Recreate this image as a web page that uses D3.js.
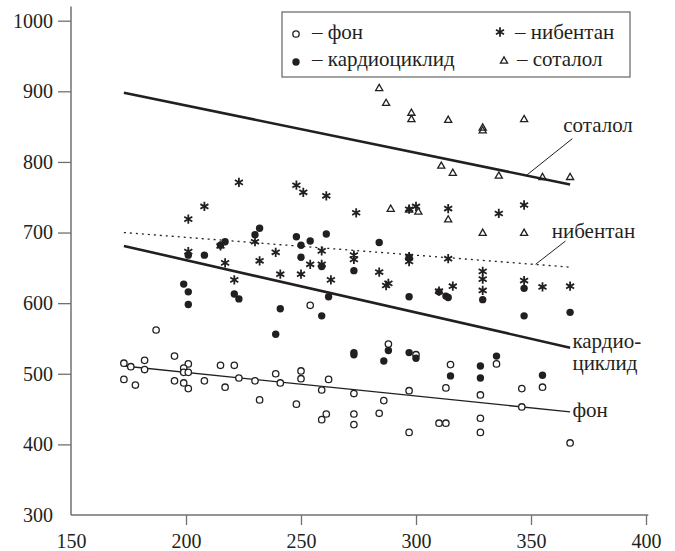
<!DOCTYPE html>
<html>
<head>
<meta charset="utf-8">
<script src="https://cdn.jsdelivr.net/npm/d3@7"></script>
<style>
body { margin: 0; background: #fff; }
#chart text { font-family: "Liberation Serif", "Times New Roman", serif !important; }
</style>
</head>
<body>
<svg id="chart" width="675" height="551"></svg>
<script>
// values: [x, y]
var fon = [[173,515],[173,492],[176,510],[178,484],[182,519],[182,506],[187,562],
  [195,525],[201,514],[199,508],[199,502],[201,502],[195,490],[199,487],[201,479],[208,490],
  [215,512],[221,512],[217,481],[223,494],[230,490],[232,463],[239,500],[241,487],[250,504],
  [250,493],[248,457],[262,492],[259,477],[261,443],[259,435],[273,472],[273,443],[273,428],
  [288,542],[286,462],[284,444],[297,476],[297,417],[300,527],[254,597],[315,513],[313,480],
  [310,430],[313,430],[328,470],[335,514],[328,437],[328,417],[346,479],[346,453],[355,481],[367,402]]

var kardio = [[201,668],[208,668],[215,682],[217,687],[232,706],[230,697],[248,694],[250,682],
  [254,688],[261,698],[250,665],[259,652],[284,686],[273,646],[297,665],[199,627],[201,616],
  [201,598],[221,613],[223,606],[262,609],[241,592],[259,582],[297,609],[239,556],[273,530],
  [273,527],[288,533],[286,518],[297,530],[300,522],[328,511],[315,497],[328,494],[335,525],
  [355,498],[310,616],[313,610],[314,608],[329,605],[347,621],[347,582],[367,587]]

var nibentan = [[201,719],[208,737],[223,771],[248,767],[251,757],[261,752],[274,728],[201,673],
  [215,681],[230,687],[217,657],[232,660],[239,672],[259,674],[221,633],[254,655],[259,655],
  [241,641],[250,641],[263,633],[273,668],[273,662],[284,644],[287,625],[288,628],[297,659],
  [297,666],[300,737],[297,733],[314,734],[336,727],[347,739],[314,663],[316,624],[329,645],
  [329,634],[329,618],[347,632],[355,623],[367,624],[310,617]]

var sotalol = [[284,904],[287,883],[298,869],[298,860],[314,859],[329,848],[329,844],[347,860],
  [311,794],[316,784],[336,780],[355,778],[367,778],[289,733],[297,732],[301,729],[314,718],
  [329,699],[347,699]]

// trend lines (start, end)
var fonLine = [[173,511],[367,446]]
var kardioLine = [[173,681],[367,537]]
var nibLine = [[173,700],[367,651]]
var sotLine = [[173,898],[367,768]]

var xTicks = [150,200,250,300,350,400]
var yTicks = [300,400,500,600,700,800,900,1000]

var svg = d3.select("#chart")
var ink = "#231f20"
var axisColor = "#707070"

var x = d3.scaleLinear().domain([150, 400]).range([71, 646])
var y = d3.scaleLinear().domain([300, 1000]).range([515, 20.7])

// axes
var gx = svg.append("g")
  .attr("transform", `translate(0,${y(300)})`)
  .call(d3.axisBottom(x).tickValues(xTicks).tickSize(10).tickSizeOuter(0).tickFormat(d3.format("d")))
  .attr("font-family", null).attr("font-size", 20)
gx.select(".domain").remove()
gx.selectAll(".tick line").attr("stroke", axisColor).attr("stroke-width", 1.3)
  .filter(d => d === 150).remove()
gx.selectAll(".tick text").attr("y", 33).attr("dy", 0).attr("fill", ink)

var gy = svg.append("g")
  .attr("transform", `translate(${x(150)},0)`)
  .call(d3.axisLeft(y).tickValues(yTicks).tickSize(13).tickPadding(5).tickSizeOuter(0).tickFormat(d3.format("d")))
  .attr("font-family", null).attr("font-size", 20)
gy.select(".domain").remove()
gy.selectAll(".tick line").attr("stroke", axisColor).attr("stroke-width", 1.3)
  .filter(d => d === 300).remove()
gy.selectAll(".tick text").attr("fill", ink)

svg.append("line")
  .attr("x1", x(150)).attr("x2", x(150))
  .attr("y1", y(1020)).attr("y2", y(300))
  .attr("stroke", axisColor).attr("stroke-width", 1.5)
svg.append("line")
  .attr("x1", x(150)).attr("x2", x(401))
  .attr("y1", y(300)).attr("y2", y(300))
  .attr("stroke", axisColor).attr("stroke-width", 1.5)

// trend lines
var line = d3.line().x(d => x(d[0])).y(d => y(d[1]))
function trend(data, width, dash) {
  svg.append("path").datum(data)
    .attr("d", line)
    .attr("fill", "none")
    .attr("stroke", ink)
    .attr("stroke-width", width)
    .attr("stroke-dasharray", dash)
}
trend(sotLine, 2.6, null)
trend(kardioLine, 2.6, null)
trend(nibLine, 1.3, "2,4")
trend(fonLine, 1.3, null)

// leader lines
var leaders = [[[348,781],[368,833]], [[352,655],[365,688]]]
leaders.forEach(function(l) {
  svg.append("path").datum(l).attr("d", line)
    .attr("stroke", ink).attr("stroke-width", 1).attr("fill", "none")
})

// markers
svg.append("g").selectAll("circle").data(fon).join("circle")
  .attr("cx", d => x(d[0])).attr("cy", d => y(d[1])).attr("r", 3.2)
  .attr("fill", "#fff").attr("stroke", ink).attr("stroke-width", 1.3)

svg.append("g").selectAll("circle").data(kardio).join("circle")
  .attr("cx", d => x(d[0])).attr("cy", d => y(d[1])).attr("r", 3.7)
  .attr("fill", ink)

var star = d3.symbol().type(d3.symbolAsterisk).size(60)
svg.append("g").selectAll("path").data(nibentan).join("path")
  .attr("d", star)
  .attr("transform", d => `translate(${x(d[0])},${y(d[1])})`)
  .attr("fill", "none").attr("stroke", ink).attr("stroke-width", 1.8)

var tri = d3.symbol().type(d3.symbolTriangle).size(22)
svg.append("g").selectAll("path").data(sotalol).join("path")
  .attr("d", tri)
  .attr("transform", d => `translate(${x(d[0])},${y(d[1])})`)
  .attr("fill", "none").attr("stroke", ink).attr("stroke-width", 1.3)

// line labels
var labels = [
  {text: "соталол", x: 364, y: 843},
  {text: "нибентан", x: 359, y: 692},
  {text: "кардио-", x: 368, y: 536},
  {text: "циклид", x: 368, y: 506},
  {text: "фон", x: 368, y: 439}
]
svg.append("g").attr("font-size", 21)
  .selectAll("text").data(labels).join("text")
  .attr("x", d => x(d.x)).attr("y", d => y(d.y))
  .attr("fill", ink)
  .text(d => d.text)

// legend
var lg = svg.append("g").attr("font-size", 21)
lg.append("rect").attr("x", 282).attr("y", 12).attr("width", 348).attr("height", 65)
  .attr("fill", "#fff").attr("stroke", axisColor).attr("stroke-width", 1.3)
lg.append("circle").attr("cx", 296).attr("cy", 34).attr("r", 3.2)
  .attr("fill", "#fff").attr("stroke", ink).attr("stroke-width", 1.3)
lg.append("circle").attr("cx", 296).attr("cy", 62).attr("r", 3.7).attr("fill", ink)
lg.append("path").attr("d", star).attr("transform", "translate(500,32)")
  .attr("fill", "none").attr("stroke", ink).attr("stroke-width", 1.8)
lg.append("path").attr("d", tri).attr("transform", "translate(504,61)")
  .attr("fill", "none").attr("stroke", ink).attr("stroke-width", 1.3)
var legendText = [["– фон", 312, 39], ["– нибентан", 515, 39], ["– кардиоциклид", 312, 66], ["– соталол", 517, 66]]
lg.selectAll("text").data(legendText).join("text")
  .attr("x", d => d[1]).attr("y", d => d[2])
  .attr("fill", ink)
  .text(d => d[0])
</script>
</body>
</html>
